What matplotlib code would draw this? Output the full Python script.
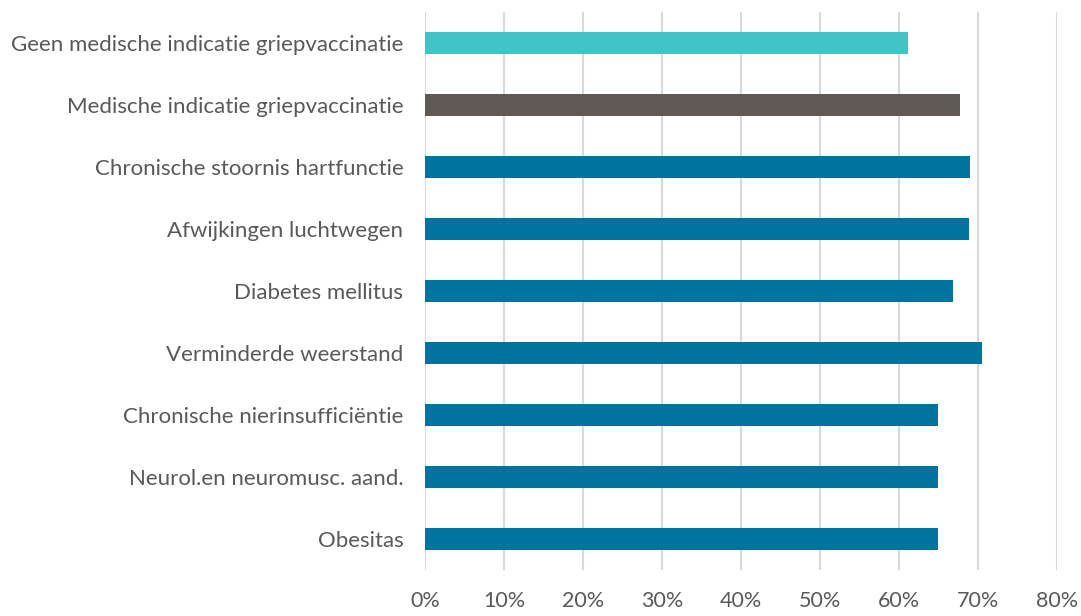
import numpy as np
import matplotlib
matplotlib.use("Agg")
import matplotlib.pyplot as plt
from matplotlib.ticker import MultipleLocator, PercentFormatter

plt.rcParams['font.family'] = ['Lato', 'DejaVu Sans']

categories = ['Geen medische indicatie griepvaccinatie',
              'Medische indicatie griepvaccinatie',
              'Chronische stoornis hartfunctie',
              'Afwijkingen luchtwegen',
              'Diabetes mellitus',
              'Verminderde weerstand',
              'Chronische nierinsufficiëntie',
              'Neurol.en neuromusc. aand.',
              'Obesitas']
values = [61.2, 67.7, 69.0, 68.9, 66.8, 70.5, 64.9, 64.9, 64.9]
colors = ['#41C3C8', '#5E5955'] + ['#00739F'] * 7

fig = plt.figure(figsize=(10.81, 6.16), dpi=100)
ax = fig.add_axes([0.3936, 0.0747, 0.5839, 0.9058])

y = np.arange(len(categories))[::-1]
ax.barh(y, values, height=0.37, color=colors, zorder=3)

ax.set_xlim(0, 80)
ax.set_ylim(-0.5, len(categories) - 0.5)
ax.xaxis.set_major_locator(MultipleLocator(10))
ax.xaxis.set_major_formatter(PercentFormatter(decimals=0))
ax.set_yticks(y)
ax.set_yticklabels(categories)

ax.grid(axis='x', color='#D9D9D9', linewidth=1.5, zorder=0)
for s in ax.spines.values():
    s.set_visible(False)
ax.tick_params(axis='y', length=0, pad=16, labelsize=16, labelcolor='#595959')
ax.tick_params(axis='x', length=0, pad=15, labelsize=15.5, labelcolor='#595959')

fig.savefig('out.png', dpi=100)
